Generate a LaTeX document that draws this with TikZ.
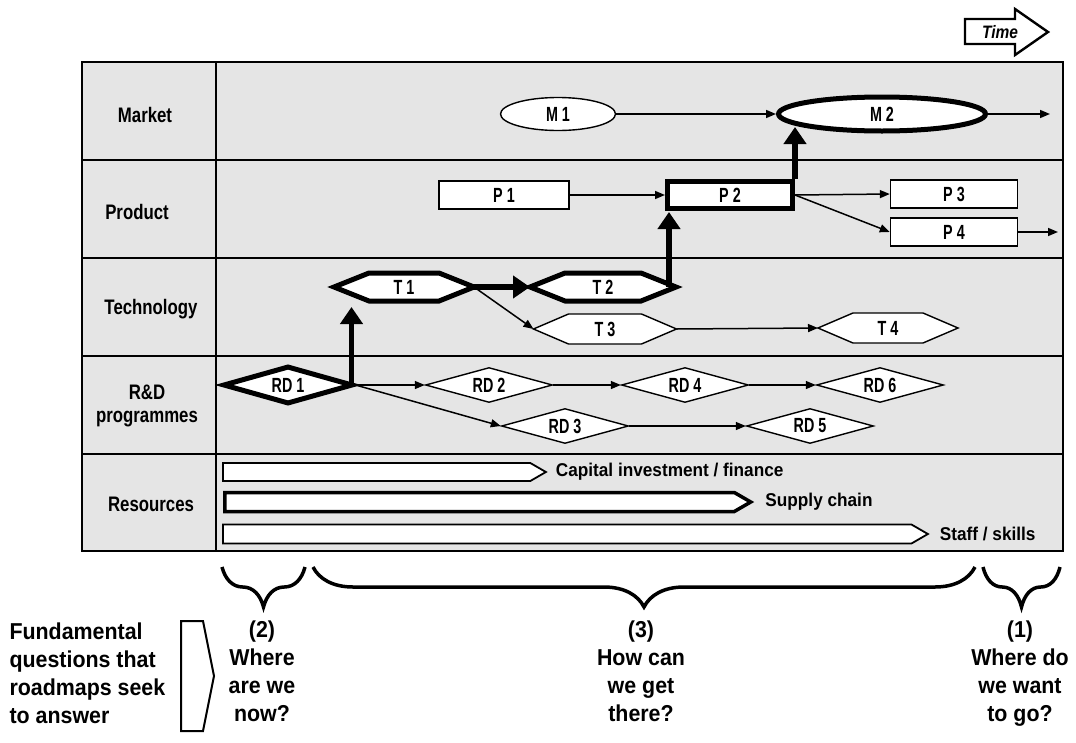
\documentclass[tikz,border=0pt]{standalone}
\usepackage{fontspec}
\setmainfont{Liberation Sans}
\newfontfamily\labfont{Liberation Sans Bold}[FakeStretch=0.7]
\newfontfamily\rowfont{Liberation Sans Bold}[FakeStretch=0.8]
\newfontfamily\resfont{Liberation Sans Bold}[FakeStretch=0.93]
\newfontfamily\timefont{Liberation Sans Bold Italic}[FakeStretch=0.86]
\usetikzlibrary{positioning, arrows.meta, shapes.geometric, shapes.symbols, decorations.pathreplacing, backgrounds}

% hexagon drawn round a text node, tips at its west and east
\newcommand\hexframe[2]{%
  \draw[fill=white, line width=1.4pt, #2] (#1.west) -- ([xshift=35pt]#1.north west)
    -- ([xshift=-35pt]#1.north east) -- (#1.east) -- ([xshift=-35pt]#1.south east)
    -- ([xshift=35pt]#1.south west) -- cycle;}

\begin{document}
\begin{tikzpicture}[x=1pt, y=-1pt,
  >={Triangle[length=10pt, width=8pt]},
  every node/.style={font=\labfont\fontsize{20.5}{23}\selectfont},
  frame/.style ={line width=2.6pt},
  rowlab/.style={align=center, font=\rowfont\fontsize{21}{23}\selectfont},
  mkt/.style   ={ellipse, draw, fill=white, line width=1.4pt, inner sep=0pt, minimum width=115pt, minimum height=33pt},
  prod/.style  ={draw, fill=white, line width=1.4pt, inner sep=0pt, minimum width=130pt, minimum height=28pt},
  tech/.style  ={inner sep=0pt, outer sep=0pt, minimum width=143pt, minimum height=30pt},
  rd/.style    ={diamond, aspect=3.5, draw, fill=white, line width=1.4pt, inner sep=0pt, minimum width=127pt, minimum height=35pt},
  key/.style   ={line width=5pt},
  res/.style   ={signal, signal to=east, signal pointer angle=60, draw, fill=white, line width=1.8pt, inner xsep=0pt, anchor=west},
  reslab/.style={font=\resfont\fontsize{18.5}{20}\selectfont, inner sep=0pt},
  link/.style  ={->, line width=1.5pt},
  push/.style  ={-{Triangle[length=17pt, width=22pt]}, line width=5.5pt},
  brace/.style ={decorate, decoration={brace, mirror, amplitude=40pt}, line width=3.5pt},
  ask/.style   ={align=center, anchor=north, font=\resfont\fontsize{23}{28}\selectfont},
]
  \useasboundingbox (0,0) rectangle (1076,742);

  % time arrow
  \draw[line width=2.4pt, fill=white] (965,19) -- (1015,19) -- (1015,9) -- (1048,32)
        -- (1015,55) -- (1015,44) -- (965,44) -- cycle;
  \node[font=\timefont\fontsize{18}{20}\selectfont] (time) at (1000,32) {Time};

  % the grid
  \begin{scope}[on background layer]
    \fill[gray!20] (82,62) rectangle (1063,551);
    \foreach \y in {160,258,356,454} \draw[frame] (82,\y) -- (1063,\y);
    \draw[frame] (216,62) -- (216,551);
    \draw[frame] (82,62) rectangle (1063,551);
  \end{scope}

  \node[rowlab] (market)     at (145,115) {Market};
  \node[rowlab] (product)    at (137,212) {Product};
  \node[rowlab] (technology) at (151,309) {Technology};
  \node[rowlab] (rdprog)     at (147,406) {R\&D\\programmes};
  \node[rowlab] (resources)  at (151,504) {Resources};

  % market and product
  \node[mkt] (M1) at (558,114) {M 1};
  \node[mkt, key, minimum width=207pt, minimum height=34pt] (M2) at (882,114) {M 2};
  \node[prod] (P1) at (504,195) {P 1};
  \node[prod, key, minimum width=125pt, minimum height=27pt] (P2) at (730,195) {P 2};
  \node[prod, minimum width=127pt] (P3) at (954,194) {P 3};
  \node[prod, minimum width=127pt] (P4) at (954,232) {P 4};

  % technology
  \node[tech, minimum width=140pt, minimum height=28pt] (T1) at (404,287) {T 1};
  \node[tech, minimum width=146pt, minimum height=28pt] (T2) at (603,287) {T 2};
  \node[tech] (T3) at (605,329) {T 3};
  \node[tech, minimum width=140pt] (T4) at (888,328) {T 4};
  \begin{scope}[on background layer]
    \hexframe{T1}{key}
    \hexframe{T2}{key}
    \hexframe{T3}{}
    \hexframe{T4}{}
  \end{scope}

  % R&D
  \node[rd, key, minimum width=130pt, minimum height=38pt] (RD1) at (288,385) {RD 1};
  \node[rd] (RD2) at (489,385) {RD 2};
  \node[rd] (RD4) at (685,385) {RD 4};
  \node[rd] (RD6) at (880,385) {RD 6};
  \node[rd] (RD3) at (565,426) {RD 3};
  \node[rd] (RD5) at (810,426) {RD 5};

  \coordinate (mout) at (1050,114);
  \coordinate (pout) at (1058,232);
  \foreach \a/\b in {M1/M2,P1/P2,P2/P3,P2/P4,T1/T3,T3/T4,RD1/RD2,RD2/RD4,RD4/RD6,RD1/RD3,RD3/RD5}
    \draw[link] (\a.east) -- (\b.west);
  \draw[link] (M2.east) -- (mout);
  \draw[link] (P4.east) -- (pout);

  % key path
  \coordinate (rdtop) at ([xshift=-4pt]RD1.east);
  \coordinate (ttop) at ([xshift=-7pt]T2.east);
  \draw[push, shorten >=6pt] (rdtop) -- (rdtop |- T1.south);
  \draw[push] (T1.east) -- (T2.west);
  \draw[push, shorten >=1pt] (ttop) -- (ttop |- P2.south);
  \draw[push, shorten >=13pt] (P2.north east) -- (P2.north east |- M2.center);

  % resources
  \node[res, inner ysep=9pt, minimum width=323pt] (capital) at (222,472) {};
  \node[res, inner ysep=9.5pt, line width=3.5pt, minimum width=526pt] (supply) at (223,502) {};
  \node[res, inner ysep=9.5pt, minimum width=705pt] (staff) at (222,534) {};
  \node[reslab, right=8pt of capital.east] (capitallab) {Capital investment / finance};
  \node[reslab, right=11pt of supply.east] (supplylab) {Supply chain};
  \node[reslab, right=10pt of staff.east] (stafflab) {Staff / skills};

  % questions
  \draw[brace] (222,567) -- (305,567);
  \draw[brace] (313,567) -- (975,567);
  \draw[brace] (983,567) -- (1060,567);
  \node[ask, align=left, anchor=north west] (fund) at (6,619) {Fundamental\\questions that\\roadmaps seek\\to answer};
  \draw[line width=2pt] (181,621) -- (203,621) -- (214,676) -- (203,731) -- (181,731) -- cycle;
  \node[ask] (now)   at (262,617) {(2)\\Where\\are we\\now?};
  \node[ask] (there) at (641,617) {(3)\\How can\\we get\\there?};
  \node[ask] (go)    at (1020,617) {(1)\\Where do\\we want\\to go?};
\end{tikzpicture}
\end{document}
